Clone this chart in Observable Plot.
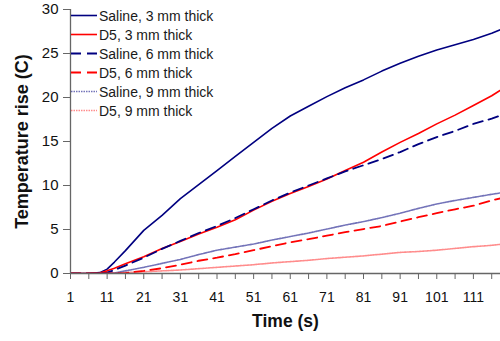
<!DOCTYPE html>
<html>
<head>
<meta charset="utf-8">
<script src="https://cdn.jsdelivr.net/npm/d3@7"></script>
<script src="https://cdn.jsdelivr.net/npm/@observablehq/plot@0.6"></script>
<style>
  html, body { margin: 0; padding: 0; background: #fff; }
  #wrap { position: relative; width: 500px; height: 341px; font-family: "Liberation Sans", Arial, sans-serif; }
  #legend { position: absolute; left: 71px; top: 6px; }
  .row { display: flex; align-items: center; height: 19px; }
  .row span { font-size: 14px; color: #1a1a1a; margin-left: 2px; white-space: nowrap; }
</style>
</head>
<body>
<div id="wrap"><div id="legend"></div></div>
<script>
// Time (s)
const time = [1, 6, 9, 11, 13, 16, 21, 26, 31, 36, 41, 46, 51, 56, 61, 66, 71, 76, 81, 86, 91, 96, 101, 106, 111, 116, 119];

// Temperature rise (C)
const saline3 = [0, 0, 0.1, 0.5, 1.3, 2.6, 4.9, 6.6, 8.5, 10.1, 11.7, 13.3, 14.9, 16.5, 17.9, 19.0, 20.1, 21.1, 22.0, 23.0, 23.9, 24.7, 25.4, 26.0, 26.6, 27.3, 27.8];
const d5_3    = [0, 0, 0.05, 0.3, 0.6, 1.1, 1.9, 2.85, 3.65, 4.5, 5.25, 6.1, 7.2, 8.2, 9.1, 9.9, 10.75, 11.7, 12.65, 13.8, 14.9, 15.9, 17.0, 18.0, 19.1, 20.2, 21.0];
const saline6 = [0, 0, 0, 0.1, 0.4, 0.9, 1.8, 2.8, 3.7, 4.6, 5.4, 6.3, 7.3, 8.3, 9.2, 10.0, 10.8, 11.6, 12.3, 13.0, 13.8, 14.7, 15.5, 16.2, 17.0, 17.6, 18.05];
const d5_6    = [0, 0, 0, 0, 0, 0.05, 0.3, 0.6, 1.0, 1.45, 1.8, 2.2, 2.65, 3.1, 3.55, 3.9, 4.3, 4.7, 5.05, 5.4, 5.9, 6.4, 6.85, 7.3, 7.7, 8.3, 8.6];
const saline9 = [0, 0, 0, 0, 0.05, 0.3, 0.7, 1.15, 1.6, 2.15, 2.65, 3.0, 3.35, 3.8, 4.2, 4.6, 5.05, 5.5, 5.9, 6.35, 6.85, 7.4, 7.9, 8.3, 8.65, 9.0, 9.2];
const d5_9    = [0, 0, 0, 0.02, 0.05, 0.1, 0.2, 0.3, 0.4, 0.55, 0.7, 0.85, 1.0, 1.2, 1.35, 1.5, 1.7, 1.85, 2.0, 2.2, 2.4, 2.5, 2.65, 2.85, 3.05, 3.2, 3.35];

const seriesNames = ["Saline, 3 mm thick", "D5, 3 mm thick", "Saline, 6 mm thick", "D5, 6 mm thick", "Saline, 9 mm thick", "D5, 9 mm thick"];
const seriesValues = [saline3, d5_3, saline6, d5_6, saline9, d5_9];
const yTicks = [0, 5, 10, 15, 20, 25, 30];
const xTickLabels = [1, 11, 21, 31, 41, 51, 61, 71, 81, 91, 101, 111];
const xMinorTicks = d3.range(1, 117, 5);

const styles = [
  {stroke: "#000080", strokeWidth: 1.6, strokeDasharray: null, strokeOpacity: 1},
  {stroke: "#ff0000", strokeWidth: 1.6, strokeDasharray: null, strokeOpacity: 1},
  {stroke: "#000080", strokeWidth: 1.8, strokeDasharray: "10,6", strokeOpacity: 1},
  {stroke: "#ff0000", strokeWidth: 1.8, strokeDasharray: "10,6", strokeOpacity: 1},
  {stroke: "#000080", strokeWidth: 1.6, strokeDasharray: "1.5,1", strokeOpacity: 0.55},
  {stroke: "#ff0000", strokeWidth: 1.6, strokeDasharray: "1.5,1", strokeOpacity: 0.45}
];

const lineMarks = seriesValues.map((vals, i) => {
  const rows = time.map((t, j) => ({t, v: vals[j]}));
  const s = styles[i];
  const opts = {x: "t", y: "v", stroke: s.stroke, strokeWidth: s.strokeWidth, strokeOpacity: s.strokeOpacity, clip: true};
  if (s.strokeDasharray) opts.strokeDasharray = s.strokeDasharray;
  return Plot.line(rows, opts);
});

const chart = Plot.plot({
  width: 500,
  height: 341,
  marginLeft: 70,
  marginRight: 0,
  marginTop: 9,
  marginBottom: 68,
  style: {fontFamily: "Liberation Sans, Arial, sans-serif", background: "#fff", color: "#111"},
  x: {domain: [1, 118.4]},
  y: {domain: [0, 30]},
  marks: [
    ...lineMarks,
    Plot.ruleX([1], {stroke: "#666", strokeWidth: 1.3}),
    Plot.ruleY([0], {stroke: "#666", strokeWidth: 1.3}),
    Plot.axisY({ticks: yTicks, tickSize: 7, tickPadding: 5, fontSize: 15, label: null, stroke: "#666"}),
    Plot.axisX({ticks: xMinorTicks, tickSize: 6, tickFormat: () => "", label: null, stroke: "#666"}),
    Plot.axisX({ticks: xTickLabels, tickSize: 0, tickPadding: 19, fontSize: 14, label: null}),
    Plot.text(["Temperature rise (C)"], {frameAnchor: "left", textAnchor: "middle", dx: -48, rotate: -90, fontWeight: "bold", fontSize: 18, fill: "#111"}),
    Plot.text(["Time (s)"], {frameAnchor: "bottom", dy: 53, fontWeight: "bold", fontSize: 17.5, fill: "#111"})
  ]
});

const wrap = document.getElementById("wrap");
wrap.insertBefore(chart, wrap.firstChild);

const legend = document.getElementById("legend");
seriesNames.forEach((name, i) => {
  const s = styles[i];
  const row = document.createElement("div");
  row.className = "row";
  const dash = s.strokeDasharray ? `stroke-dasharray="${s.strokeDasharray}"` : "";
  row.innerHTML = `<svg width="26" height="19"><line x1="0" x2="26" y1="9.5" y2="9.5" stroke="${s.stroke}" stroke-width="${s.strokeWidth}" stroke-opacity="${s.strokeOpacity}" ${dash}/></svg><span>${name}</span>`;
  legend.appendChild(row);
});
</script>
</body>
</html>
